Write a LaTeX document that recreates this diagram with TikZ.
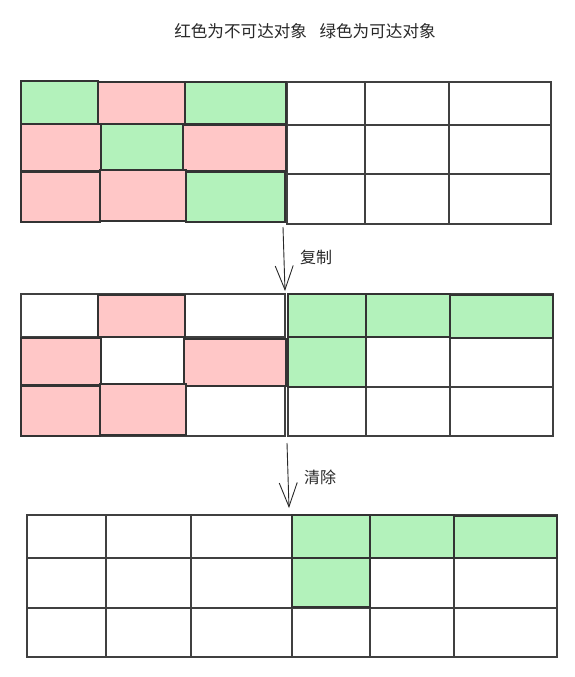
\documentclass[tikz,border=0pt]{standalone}
\usepackage{fontspec}
\newfontfamily\cjk{Noto Sans CJK SC}
\usetikzlibrary{arrows.meta}
\definecolor{livegreen}{RGB}{179,242,187}
\definecolor{deadpink}{RGB}{255,199,199}
\definecolor{gridgray}{RGB}{64,64,64}
\definecolor{textgray}{RGB}{40,40,40}
\begin{document}
\begin{tikzpicture}[x=1pt,y=-1pt,
    blankgrid/.style={draw=gridgray, line width=1.1pt},
    livecell/.style={draw=gridgray!80!black, fill=livegreen, line width=1.6pt},
    deadcell/.style={draw=gridgray!80!black, fill=deadpink, line width=1.6pt},
    gcarrow/.style={draw=textgray, line width=0.9pt, -{Straight Barb[length=24pt,width=18pt,line width=0.9pt]}},
    cjklabel/.style={text=textgray, font=\cjk\fontsize{16pt}{18pt}\selectfont}]
    \useasboundingbox (0,0) rectangle (575,677);
    \node[cjklabel, font=\cjk\fontsize{16.6pt}{18pt}\selectfont] (title) at (305,31) {红色为不可达对象\hspace{0.75em}绿色为可达对象};
    % before copying
    \draw[blankgrid] (287,82) rectangle (551,224) (365,82) -- (365,224) (449,82) -- (449,224) (287,125) -- (551,125) (287,174) -- (551,174);
    \draw[livecell] (21,81) rectangle (98,124);
    \draw[deadcell] (98,82) rectangle (185,124);
    \draw[livecell] (185,82) rectangle (286,124);
    \draw[deadcell] (21,124) rectangle (101,171);
    \draw[livecell] (101,124) rectangle (183,171);
    \draw[deadcell] (183,125) rectangle (286,171);
    \draw[deadcell] (21,172) rectangle (100,222);
    \draw[deadcell] (100,170) rectangle (186,221);
    \draw[livecell] (186,172) rectangle (285,222);
    % after copying
    \draw[blankgrid] (21,294) rectangle (285,436) (98,294) -- (98,436) (185,294) -- (185,436) (21,337) -- (285,337) (21,386) -- (285,386);
    \draw[deadcell] (98,295) rectangle (185,337);
    \draw[deadcell] (21,338) rectangle (101,385);
    \draw[deadcell] (184,339) rectangle (286,386);
    \draw[deadcell] (21,386) rectangle (100,436);
    \draw[deadcell] (100,384) rectangle (186,435);
    \draw[blankgrid] (288,294) rectangle (553,436) (366,294) -- (366,436) (450,294) -- (450,436) (288,337) -- (553,337) (288,387) -- (553,387);
    \draw[livecell] (288,294) rectangle (366,337);
    \draw[livecell] (366,294) rectangle (450,337);
    \draw[livecell] (450,295) rectangle (553,338);
    \draw[livecell] (288,337) rectangle (366,387);
    % after clearing
    \draw[blankgrid] (27,515) rectangle (292,657) (106,515) -- (106,657) (191,515) -- (191,657) (27,558) -- (292,558) (27,608) -- (292,608);
    \draw[blankgrid] (292,515) rectangle (557,657) (370,515) -- (370,657) (454,515) -- (454,657) (292,558) -- (557,558) (292,608) -- (557,608);
    \draw[livecell] (292,515) rectangle (370,558);
    \draw[livecell] (370,515) rectangle (454,558);
    \draw[livecell] (454,516) rectangle (557,558);
    \draw[livecell] (292,558) rectangle (370,607);
    % arrows
    \coordinate (copystart) at (283,227);
    \coordinate (copyend) at (285,291);
    \coordinate (clearstart) at (287,443);
    \coordinate (clearend) at (289,508);
    \draw[gcarrow] (copystart) -- (copyend);
    \draw[gcarrow] (clearstart) -- (clearend);
    \node[cjklabel] (copylabel) at (316,257) {复制};
    \node[cjklabel] (clearlabel) at (320,477) {清除};
\end{tikzpicture}
\end{document}
